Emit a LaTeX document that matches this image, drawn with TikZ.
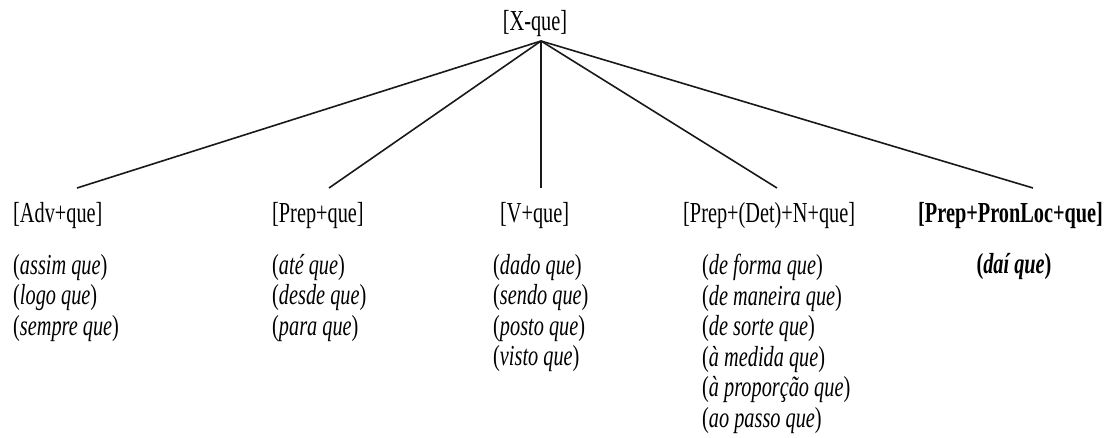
\documentclass[tikz,border=0pt]{standalone}
\usepackage{fontspec}
\setmainfont{Liberation Serif}[FakeStretch=0.7]
\usepackage{tikz}
\usetikzlibrary{positioning}

\begin{document}
\begin{tikzpicture}[x=1pt,y=-1pt]
\tikzstyle{every node}=[inner sep=0pt,font=\fontsize{29}{30.5}\selectfont]
\tikzstyle{cat}=[anchor=west]
\tikzstyle{ex}=[anchor=north west,align=left]
\tikzstyle{branch}=[line width=1.6pt,black!90]
\useasboundingbox (0,0) rectangle (1109,438);
\node (xque) at (535,24) {[X-que]};
\coordinate (top) at (541,41);
% categories
\node[cat] (adv) at (13,216) {[Adv+que]};
\node[cat] (prep) at (272,216) {[Prep+que]};
\node[cat] (v) at (500,216) {[V+que]};
\node[cat] (n) at (683,216) {[Prep+(Det)+N+que]};
\node[cat] (loc) at (918,216) {\textbf{[Prep+PronLoc+que]}};
\coordinate (advend) at (77,188);
\coordinate (prepend) at (329,188);
\coordinate (vend) at (541,188);
\coordinate (nend) at (777,188);
\coordinate (locend) at (1033,188);
\foreach \e in {advend,prepend,vend,nend,locend}
  \draw[branch] (top) -- (\e);
% examples
\node[ex] (advex) at (13,254) {(\textit{assim que})\\(\textit{logo que})\\(\textit{sempre que})};
\node[ex] (prepex) at (272,254) {(\textit{até que})\\(\textit{desde que})\\(\textit{para que})};
\node[ex] (vex) at (493,254) {(\textit{dado que})\\(\textit{sendo que})\\(\textit{posto que})\\(\textit{visto que})};
\node[ex] (nex) at (702,254) {(\textit{de forma que})\\(\textit{de maneira que})\\(\textit{de sorte que})\\(\textit{à medida que})\\(\textit{à proporção que})\\(\textit{ao passo que})};
\node (locex) at (1014,267) {\textbf{(\textit{daí que})}};
\end{tikzpicture}
\end{document}
